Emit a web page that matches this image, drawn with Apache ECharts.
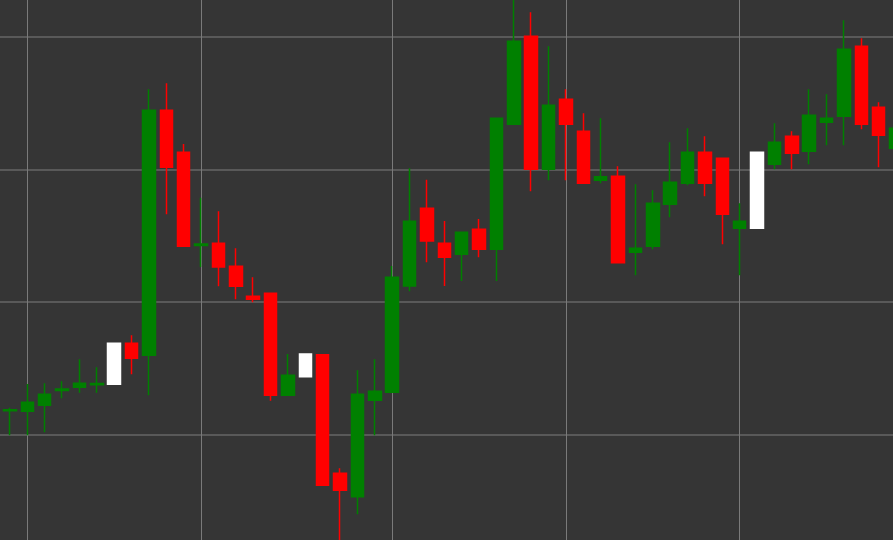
<!DOCTYPE html>
<html>
<head>
<meta charset="utf-8">
<script src="https://cdn.jsdelivr.net/npm/echarts@6/dist/echarts.min.js"></script>
<style>
  html, body { margin: 0; padding: 0; background: #353535; }
  #chart { width: 893px; height: 540px; }
</style>
</head>
<body>
<div id="chart"></div>
<script>
// Bar positions (session index)
const categories = [0,1,2,3,4,5,6,7,8,9,10,11,12,13,14,15,16,17,18,19,20,21,22,23,24,25,26,27,28,29,30,31,32,33,34,35,36,37,38,39,40,41,42,43,44,45,46,47,48,49,50,51];

// OHLC values
const opens  = [101.81,101.77,102.22,103.34,103.58,103.77,103.80,106.89,105.99,124.44,121.28,114.26,114.42,112.69,110.43,110.66,102.98,104.38,106.03,97.10,95.34,102.60,103.20,111.21,117.06,114.42,113.60,115.48,113.97,123.39,130.02,120.00,125.27,122.86,119.17,119.47,113.75,114.20,117.36,118.94,121.28,120.83,115.55,115.55,120.37,122.48,121.35,123.54,123.99,129.26,124.67,121.58];
const closes = [101.88,102.45,103.05,103.45,103.88,103.86,106.89,105.76,124.44,120.15,114.20,114.37,112.64,111.19,110.21,102.98,104.48,106.09,96.20,95.82,103.05,103.28,111.86,116.08,114.60,113.37,115.25,113.97,123.84,129.64,120.00,124.82,123.39,118.94,119.44,112.96,114.05,117.44,119.02,121.28,118.94,116.61,116.08,121.28,122.03,121.20,124.06,123.84,129.04,123.39,122.56,123.09];
const lows   = [99.96,99.96,100.19,102.75,103.17,103.17,103.80,104.56,102.98,116.61,114.20,112.64,111.19,110.21,109.98,102.57,102.98,104.38,96.20,91.70,94.01,99.96,103.20,110.81,112.99,111.21,111.58,113.37,111.58,123.39,118.34,119.17,119.17,118.94,118.94,112.96,112.01,113.97,116.38,118.79,117.96,114.35,112.01,115.55,120.00,120.00,120.37,121.81,121.81,123.01,120.15,121.58];
const highs  = [102.04,103.83,103.88,104.03,105.69,105.08,106.89,107.49,126.02,126.48,121.90,117.86,116.83,114.05,111.86,110.66,106.09,106.09,106.03,97.48,104.86,105.69,112.71,120.07,119.21,116.10,115.25,116.25,123.84,133.00,131.82,129.26,126.02,124.22,123.84,120.22,118.87,118.42,122.03,123.09,122.48,120.83,117.44,121.28,123.46,122.86,126.02,125.65,131.22,129.86,125.04,123.09];

// Highlighted (white) candles
const whiteIdx = [6, 17, 43];
// Vertical grid lines (session index) and horizontal grid lines (price)
const vLineIdx = [1, 11, 22, 32, 42];
const hLineVals = [100, 110, 120, 130];

// Visible window of the axes
const xMin = -0.5756, xMax = 50.826;
const yMin = 92.077, yMax = 132.749;

const data = categories.map((x, i) => {
  const item = { value: [x, opens[i], closes[i], lows[i], highs[i]] };
  if (whiteIdx.includes(i)) {
    item.itemStyle = { color: '#ffffff', color0: '#ffffff', borderColor: '#ffffff', borderColor0: '#ffffff' };
  }
  return item;
});

const chart = echarts.init(document.getElementById('chart'), null, { renderer: 'canvas' });
chart.setOption({
  animation: false,
  backgroundColor: '#353535',
  grid: { left: 0, right: 0, top: 0, bottom: 0, containLabel: false, outerBoundsMode: 'none' },
  xAxis: {
    type: 'value',
    min: xMin, max: xMax,
    axisLine: { show: false },
    axisTick: { show: false },
    axisLabel: { show: false },
    splitLine: { show: false }
  },
  yAxis: {
    type: 'value',
    min: yMin, max: yMax,
    scale: true,
    axisLine: { show: false },
    axisTick: { show: false },
    axisLabel: { show: false },
    splitLine: { show: false }
  },
  series: [{
    type: 'candlestick',
    data: data,
    encode: { x: 0, y: [1, 2, 3, 4] },
    barWidth: 13,
    clip: false,
    z: 3,
    itemStyle: {
      color: '#008000',
      color0: '#ff0000',
      borderColor: '#008000',
      borderColor0: '#ff0000',
      borderWidth: 1.5
    },
    markLine: {
      silent: true,
      z: 1,
      animation: false,
      symbol: ['none', 'none'],
      label: { show: false },
      emphasis: { disabled: true },
      data: [
        ...hLineVals.map(v => ({ yAxis: v, lineStyle: { color: '#595959', width: 2, type: 'solid' } })),
        ...vLineIdx.map(i => ({ xAxis: i, lineStyle: { color: '#7a7a7a', width: 1, type: 'solid' } }))
      ]
    }
  }]
});
</script>
</body>
</html>
